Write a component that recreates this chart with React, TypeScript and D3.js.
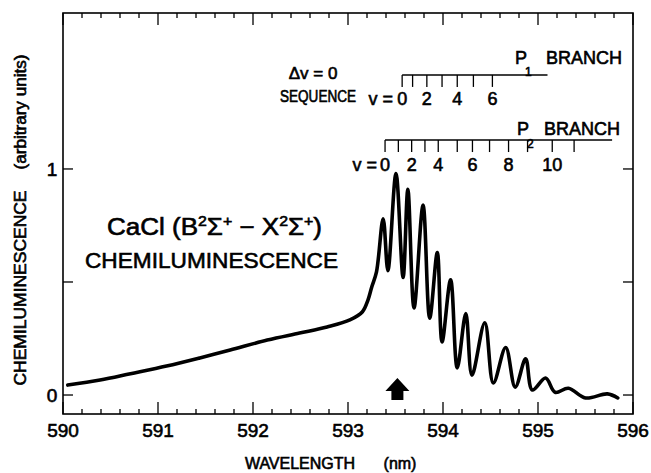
import React from 'react';
import * as d3 from 'd3';

// spectrum (wavelength in nm, intensity in arbitrary units)
const wavelength = [
  590.05, 590.39, 590.71, 591.09, 591.44, 591.76, 592.15, 592.49, 592.78, 593.02,
  593.15, 593.21, 593.25, 593.3, 593.37, 593.42, 593.505, 593.58, 593.63, 593.695,
  593.79, 593.86, 593.94, 593.99, 594.08, 594.15, 594.24, 594.305, 594.44, 594.53,
  594.66, 594.76, 594.87, 594.94, 595.08, 595.18, 595.32, 595.5, 595.73, 595.84,
];
const intensity = [
  0.044, 0.066, 0.094, 0.128, 0.164, 0.199, 0.243, 0.274, 0.301, 0.332,
  0.367, 0.42, 0.478, 0.545, 0.78, 0.55, 0.98, 0.52, 0.91, 0.385,
  0.84, 0.34, 0.63, 0.235, 0.51, 0.12, 0.36, 0.088, 0.32, 0.053,
  0.21, 0.035, 0.16, 0.022, 0.075, 0.012, 0.03, -0.013, 0.005, -0.013,
];

const xTicks = [590, 591, 592, 593, 594, 595, 596];
const yTicks = [0, 0.5, 1];
const yTickLabels = ['0', '', '1'];

// band-head positions for the two branches (v = 0, 1, 2 ...)
const p1Heads = [593.57, 593.68, 593.83, 593.99, 594.15, 594.32, 594.52];
const p2Heads = [593.39, 593.53, 593.67, 593.81, 593.95, 594.15, 594.31, 594.49, 594.69, 594.89, 595.15, 595.38];
const p1End = 595.1;
const p2End = 595.78;
const p1Level = 1.416;
const p2Level = 1.128;
const arrowAt = 593.52;

const W = 651;
const H = 473;
const FONT = "'Liberation Sans', Arial, sans-serif";

export default function App() {
  const left = 63, right = 633, top = 13, bottom = 414;
  const x = d3.scaleLinear().domain([590, 596]).range([left, right]);
  const y = d3.scaleLinear().domain([-0.084, 1.69]).range([bottom, top]);

  const pts = wavelength.map((w, i) => [w, intensity[i]] as [number, number]);
  const line = d3.line<[number, number]>()
    .x(d => x(d[0]))
    .y(d => y(d[1]))
    .curve(d3.curveCatmullRom.alpha(0.5));

  const minor = x.ticks(30);
  const isMajor = (v: number) => Math.abs(v - Math.round(v)) < 1e-6;

  const ax = x(arrowAt);
  const tipY = y(0.075);

  const txt = { fontFamily: FONT, fill: '#000', stroke: '#000', strokeWidth: 0.6 };

  const branch = (heads: number[], end: number, level: number, vx: number, labelDy: number) => {
    const ly = y(level);
    return (
      <g>
        <line x1={x(heads[0])} x2={x(end)} y1={ly} y2={ly} stroke="#000" strokeWidth={1.4} />
        {heads.map((h, i) => (
          <line key={i} x1={x(h)} x2={x(h)} y1={ly} y2={ly + 12} stroke="#000" strokeWidth={1.3} />
        ))}
        <text x={vx} y={ly + labelDy} fontSize={18} textAnchor="end" {...txt}>v =</text>
        {heads.map((h, i) => i % 2 === 0 ? (
          <text key={i} x={x(h)} y={ly + labelDy} fontSize={18} textAnchor="middle" {...txt}>{i}</text>
        ) : null)}
      </g>
    );
  };

  return (
    <svg width={W} height={H} style={{ position: 'absolute', left: 0, top: 0, background: '#fff' }}>
      <rect x={left} y={top} width={right - left} height={bottom - top} fill="none" stroke="#000" strokeWidth={1.6} />

      {/* bottom and top ticks, pointing inward */}
      {minor.map((v, i) => {
        const len = isMajor(v) ? 12 : 5;
        return (
          <g key={i}>
            <line x1={x(v)} x2={x(v)} y1={bottom} y2={bottom - len} stroke="#000" strokeWidth={1.3} />
            <line x1={x(v)} x2={x(v)} y1={top} y2={top + len} stroke="#000" strokeWidth={1.3} />
          </g>
        );
      })}
      {xTicks.map(v => (
        <text key={v} x={x(v)} y={437} fontSize={19} textAnchor="middle" {...txt}>{v}</text>
      ))}

      {/* left and right ticks */}
      {yTicks.map((v, i) => (
        <g key={i}>
          <line x1={left} x2={left + 10} y1={y(v)} y2={y(v)} stroke="#000" strokeWidth={1.3} />
          <line x1={right} x2={right - 10} y1={y(v)} y2={y(v)} stroke="#000" strokeWidth={1.3} />
          <text x={52} y={y(v) + 7} fontSize={19} textAnchor="middle" {...txt}>{yTickLabels[i]}</text>
        </g>
      ))}

      <path d={line(pts) || ''} fill="none" stroke="#000" strokeWidth={3.6} strokeLinejoin="round" strokeLinecap="round" />

      {/* arrow marking the band origin */}
      <path
        d={`M${ax},${tipY} L${ax + 12},${tipY + 13} L${ax + 6},${tipY + 13} L${ax + 6},${tipY + 22} L${ax - 6},${tipY + 22} L${ax - 6},${tipY + 13} L${ax - 12},${tipY + 13} Z`}
        fill="#000"
      />

      {/* branch scales */}
      {branch(p1Heads, p1End, p1Level, 393, 30)}
      {branch(p2Heads, p2End, p2Level, 377, 31)}

      <text x={515} y={64} fontSize={18} {...txt}>P</text>
      <text x={525} y={76} fontSize={12} {...txt}>1</text>
      <text x={622} y={64} fontSize={18} textAnchor="end" {...txt}>BRANCH</text>
      <text x={517} y={135} fontSize={18} {...txt}>P</text>
      <text x={527} y={148} fontSize={12} {...txt}>2</text>
      <text x={620} y={135} fontSize={18} textAnchor="end" {...txt}>BRANCH</text>

      <text x={313} y={79} fontSize={17} textAnchor="middle" {...txt}>Δv = 0</text>
      <text x={318} y={102} fontSize={16} textAnchor="middle" textLength={76} lengthAdjust="spacingAndGlyphs" {...txt}>SEQUENCE</text>

      <text x={107} y={235} fontSize={23} textLength={215} lengthAdjust="spacingAndGlyphs" {...txt}>
        CaCl (B<tspan dy={-9} fontSize={14}>2</tspan><tspan dy={9}>Σ</tspan>
        <tspan dy={-9} fontSize={14}>+</tspan><tspan dy={9}> − X</tspan>
        <tspan dy={-9} fontSize={14}>2</tspan><tspan dy={9}>Σ</tspan>
        <tspan dy={-9} fontSize={14}>+</tspan><tspan dy={9}>)</tspan>
      </text>
      <text x={85} y={268} fontSize={22} textLength={253} lengthAdjust="spacingAndGlyphs" {...txt}>CHEMILUMINESCENCE</text>

      {/* axis titles */}
      <text x={300} y={469} fontSize={16} textAnchor="middle" {...txt}>WAVELENGTH</text>
      <text x={400} y={469} fontSize={16} textAnchor="middle" {...txt}>(nm)</text>
      <text transform="translate(26,288) rotate(-90)" fontSize={16} textAnchor="middle" textLength={195} lengthAdjust="spacingAndGlyphs" {...txt}>CHEMILUMINESCENCE</text>
      <text transform="translate(26,112) rotate(-90)" fontSize={16} textAnchor="middle" textLength={115} lengthAdjust="spacingAndGlyphs" {...txt}>(arbitrary units)</text>
    </svg>
  );
}
